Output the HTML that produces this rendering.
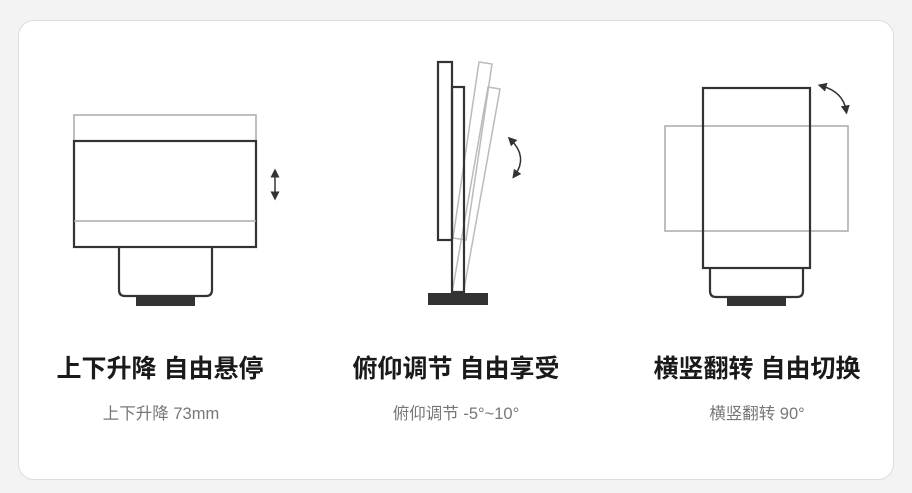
<!DOCTYPE html>
<html><head><meta charset="utf-8"><style>
html,body{margin:0;padding:0;background:#f4f3f3;width:912px;height:493px;overflow:hidden;font-family:"Liberation Sans","Noto Sans CJK SC",sans-serif}
.card{position:absolute;left:18px;top:20px;width:874px;height:458px;background:#fff;border:1px solid #ddd;border-radius:16px}
.t{position:absolute;top:349px;width:300px;text-align:center;font-size:25px;font-weight:bold;color:#1a1a1a}
.s{position:absolute;top:400px;width:300px;text-align:center;font-size:16.5px;color:#777}
svg{position:absolute;left:0;top:0}
</style></head><body>
<div class="card"></div>
<svg width="912" height="493" viewBox="0 0 912 493">
<defs><marker id="a" viewBox="0 0 10 10" refX="5" refY="5" markerWidth="6" markerHeight="6" orient="auto-start-reverse"><path d="M0 0L10 5L0 10z" fill="#333"/></marker></defs>
<!-- left -->
<rect x="74" y="115" width="182" height="26" fill="none" stroke="#aaa" stroke-width="1.5"/>
<rect x="74" y="141" width="182" height="106" fill="none" stroke="#333" stroke-width="2.2"/>
<line x1="74" y1="221" x2="256" y2="221" stroke="#aaa" stroke-width="1.5"/>
<path d="M119 247V290Q119 296 125 296H206Q212 296 212 290V247" fill="none" stroke="#333" stroke-width="2.2"/>
<rect x="136" y="297" width="59" height="9" fill="#333"/>
<line x1="275" y1="173" x2="275" y2="196" stroke="#333" stroke-width="1.5" marker-start="url(#a)" marker-end="url(#a)"/>
<!-- middle -->
<g fill="none" stroke="#bbb" stroke-width="1.5">
<polygon points="479,62 492,64 466,240 453,238"/>
<polygon points="488,87 500,89 463,295 452,293"/>
</g>
<rect x="438" y="62" width="14" height="178" fill="#fff" stroke="#333" stroke-width="2.2"/>
<rect x="452" y="87" width="12" height="205" fill="none" stroke="#333" stroke-width="2.2"/>
<rect x="428" y="293" width="60" height="12" fill="#333"/>
<path d="M511 140Q528 157 515 175" fill="none" stroke="#333" stroke-width="1.5" marker-start="url(#a)" marker-end="url(#a)"/>
<!-- right -->
<rect x="665" y="126" width="183" height="105" fill="none" stroke="#aaa" stroke-width="1.5"/>
<rect x="703" y="88" width="107" height="180" fill="none" stroke="#333" stroke-width="2.2"/>
<path d="M710 268V291Q710 297 716 297H797Q803 297 803 291V268" fill="none" stroke="#333" stroke-width="2.2"/>
<rect x="727" y="298" width="59" height="8" fill="#333"/>
<path d="M822 86Q843 92 846 110" fill="none" stroke="#333" stroke-width="1.5" marker-start="url(#a)" marker-end="url(#a)"/>
</svg>
<div class="t" style="left:10px">上下升降 自由悬停</div>
<div class="s" style="left:11px">上下升降 73mm</div>
<div class="t" style="left:306px">俯仰调节 自由享受</div>
<div class="s" style="left:306px">俯仰调节 -5°~10°</div>
<div class="t" style="left:607px">横竖翻转 自由切换</div>
<div class="s" style="left:607px">横竖翻转 90°</div>
</body></html>
